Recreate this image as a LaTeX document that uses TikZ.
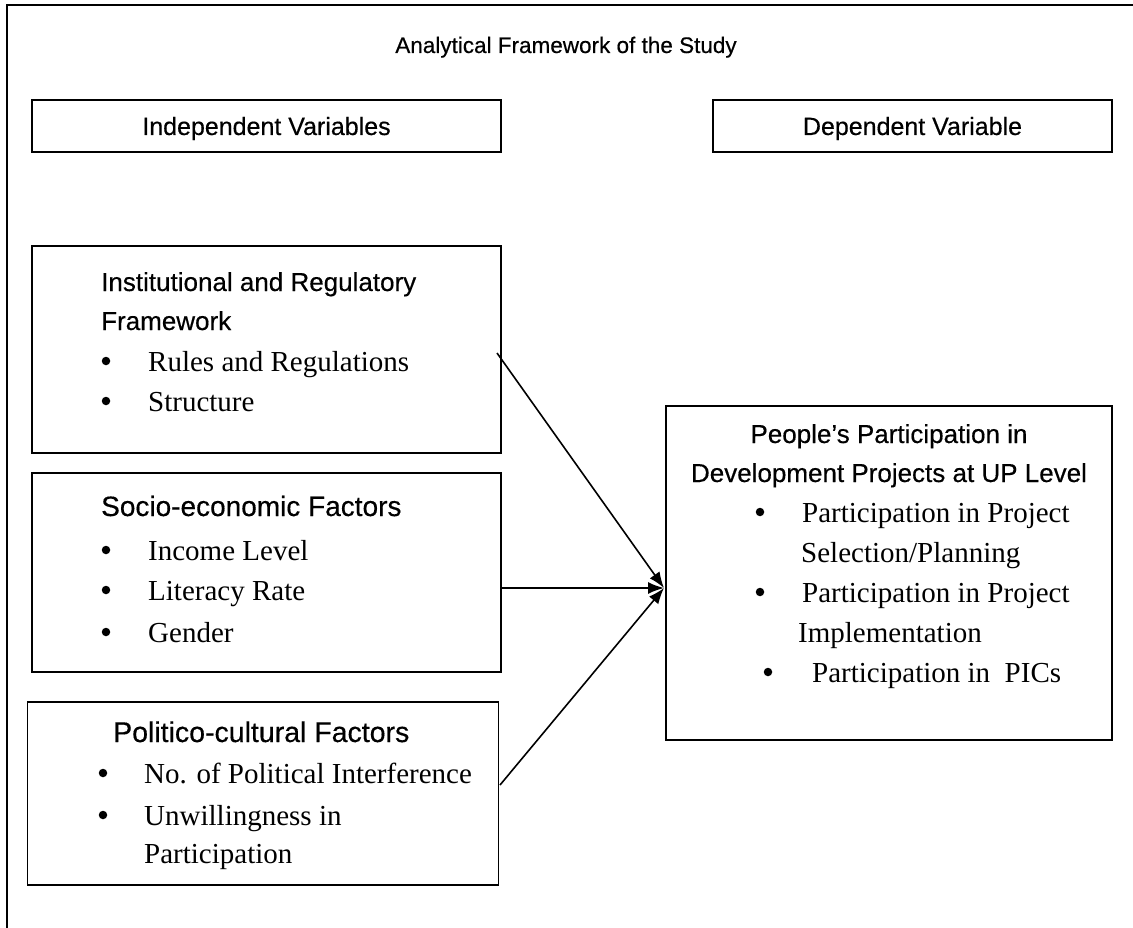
\documentclass[tikz,border=0pt]{standalone}
\usepackage{fontspec}
\setmainfont{Liberation Serif}
\newfontfamily\arial[FakeBold=0.4]{Liberation Sans}
\usetikzlibrary{arrows.meta}
\tikzset{
  box/.style={draw=black, line width=1.6pt, fill=none, inner sep=0pt},
  head/.style={font=\arial\fontsize{26}{30}\selectfont, inner sep=0pt, anchor=base west},
  headc/.style={font=\arial\fontsize{26}{30}\selectfont, inner sep=0pt, anchor=base},
  item/.style={font=\fontsize{29}{33}\selectfont, inner sep=0pt, anchor=base west},
  dot/.style={circle, fill=black, draw=none, inner sep=0pt, minimum size=8.5pt},
  arr/.style={line width=1.6pt, -{Latex[length=16pt,width=12pt]}}
}
\begin{document}
\begin{tikzpicture}[x=1pt,y=-1pt]
\useasboundingbox (0,0) rectangle (1133,928);
% outer frame (only top and left edges visible)
\coordinate (fc) at (7,5);
\coordinate (fr) at (1133,5);
\coordinate (fb) at (7,928);
\draw[line width=2.2pt] (fr) -- (fc) -- (fb);
% title
\node[font=\arial\fontsize{22.5}{26}\selectfont, inner sep=0pt, anchor=base] (title) at (566,53) {Analytical Framework of the Study};
% IV / DV boxes
\node[box, minimum width=469pt, minimum height=52pt] (iv) at (266.5,126) {};
\node[headc, font=\arial\fontsize{25}{30}\selectfont] (ivt) at (266.5,135) {Independent Variables};
\node[box, minimum width=399pt, minimum height=52pt] (dv) at (912.5,126) {};
\node[headc, font=\arial\fontsize{25}{30}\selectfont] (dvt) at (912.5,135) {Dependent Variable};
% box 1
\node[box, minimum width=469pt, minimum height=207pt] (b1) at (266.5,349.5) {};
\node[head] (b1h1) at (101,291) {Institutional and Regulatory};
\node[head] (b1h2) at (101,330) {Framework};
\node[dot] (b1b1) at (106,361) {};
\node[item] (b1i1) at (148,371) {Rules and Regulations};
\node[dot] (b1b2) at (106,401) {};
\node[item] (b1i2) at (148,411) {Structure};
% box 2
\node[box, minimum width=469pt, minimum height=199pt] (b2) at (266.5,572.5) {};
\node[head, font=\arial\fontsize{28}{32}\selectfont] (b2h) at (101,516) {Socio-economic Factors};
\node[dot] (b2b1) at (106,550) {};
\node[item] (b2i1) at (148,560) {Income Level};
\node[dot] (b2b2) at (106,590) {};
\node[item] (b2i2) at (148,600) {Literacy Rate};
\node[dot] (b2b3) at (106,632) {};
\node[item] (b2i3) at (148,642) {Gender};
% box 3
\node[box, minimum width=471pt, minimum height=183pt] (b3) at (263,793.5) {};
\node[head, font=\arial\fontsize{28.5}{32}\selectfont] (b3h) at (113,742) {Politico-cultural Factors};
\node[dot] (b3b1) at (103,773) {};
\node[item] (b3i1) at (144,783) {No. of Political Interference};
\node[dot] (b3b2) at (103,815) {};
\node[item] (b3i2) at (144,825) {Unwillingness in};
\node[item] (b3i3) at (144,863) {Participation};
% right box
\node[box, minimum width=446pt, minimum height=334pt] (pp) at (889,573) {};
\node[headc] (pph1) at (889,443) {People’s Participation in};
\node[headc] (pph2) at (889,482) {Development Projects at UP Level};
\node[dot] (ppb1) at (760,512) {};
\node[item] (ppi1) at (802,522) {Participation in Project};
\node[item] (ppi1b) at (801,562) {Selection/Planning};
\node[dot] (ppb2) at (760,592) {};
\node[item] (ppi2) at (802,602) {Participation in Project};
\node[item] (ppi2b) at (798,642) {Implementation};
\node[dot] (ppb3) at (768,672) {};
\node[item] (ppi3) at (812,682) {Participation in\ \ PICs};
% arrows
\coordinate (tip) at (664,588);
\coordinate (s1) at (497,353);
\coordinate (s3) at (500,785);
\draw[arr] (s1) -- (tip);
\draw[arr] (b2.east |- tip) -- (tip);
\draw[arr] (s3) -- (tip);
\end{tikzpicture}
\end{document}
